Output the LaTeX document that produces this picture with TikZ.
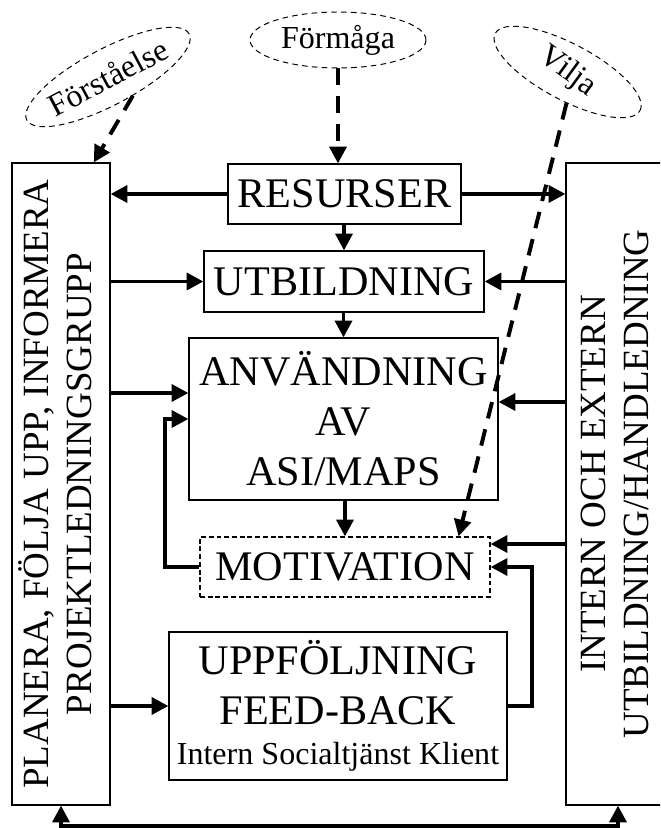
\documentclass[tikz,border=0pt]{standalone}
\usepackage{fontspec}
\setmainfont{Liberation Serif}
\usepackage{graphicx}
\usetikzlibrary{arrows.meta,calc,positioning,shapes.geometric}

\begin{document}
\begin{tikzpicture}[
  box/.style={draw,line width=0.8pt,align=center,inner sep=0pt,font=\fontsize{30}{35.6}\selectfont},
  sidebox/.style={box,minimum height=16.05cm,font=\fontsize{26.3}{30.6}\selectfont},
  oval/.style={draw,ellipse,dash pattern=on 4pt off 3pt,line width=0.7pt,inner sep=0pt,minimum height=1.4cm,font=\fontsize{22.8}{26}\selectfont},
  arr/.style={-{Triangle[length=0.42cm,width=0.42cm]},line width=2.8pt},
  darr/.style={arr,dash pattern=on 0.42cm off 0.28cm},
  arrs/.style={{Triangle[length=0.42cm,width=0.42cm]}-{Triangle[length=0.42cm,width=0.42cm]},line width=2.8pt}
]
\clip (0,0) rectangle (16.5,20.7);

% sidorna
\node[sidebox,minimum width=2.45cm] (plan) at (1.525,8.6) {\rotatebox{90}{\begin{tabular}{@{}c@{}}PLANERA, FÖLJA UPP, INFORMERA\\PROJEKTLEDNINGSGRUPP\end{tabular}}};
\node[sidebox,minimum width=2.6cm] (ext) at (15.45,8.6) {\rotatebox{90}{\begin{tabular}{@{}c@{}}INTERN OCH EXTERN\\UTBILDNING/HANDLEDNING\end{tabular}}};

% mitten
\node[box,minimum width=5.825cm,minimum height=1.5cm] (res) at (8.6125,15.85) {RESURSER};
\node[box,minimum width=7cm,minimum height=1.525cm] (utb) at (8.6,13.6625) {UTBILDNING};
\node[box,minimum width=7.725cm,minimum height=4.05cm] (anv) at (8.5875,10.225) {ANVÄNDNING\\AV\\ASI/MAPS};
\node[box,dash pattern=on 3.5pt off 2pt,minimum width=7.25cm,minimum height=1.5cm] (motiv) at (8.625,6.525) {MOTIVATION};
\node[box,minimum width=8.45cm,minimum height=3.7cm] (uppf) at (8.45,3.05) {UPPFÖLJNING\\FEED-BACK\\[-7pt]{\fontsize{22.8}{26}\selectfont Intern Socialtjänst Klient}};

% ovaler
\node[oval,minimum width=4.1cm,rotate=28] (forst) at (2.7,18.775) {Förståelse};
\node[oval,minimum width=4.4cm] (forma) at (8.45,19.7) {Förmåga};
\node[oval,minimum width=4.1cm,rotate=-28] (vilja) at (14.19,18.9) {\rotatebox{-8}{Vilja}};

% pilar
\draw[darr] (forst.-65) -- ($(plan.north east)+(-0.42,0)$);
\draw[darr] (forma.south) -- (forma.south |- res.north);
\draw[darr] (vilja.-64) -- ($(motiv.north east)+(-0.8,0)$);

\draw[arr] (res.west) -- (res.west -| plan.east);
\draw[arr] (res.east) -- (res.east -| ext.west);
\draw[arr] (utb.north |- res.south) -- (utb.north);
\draw[arr] (utb.west -| plan.east) -- (utb.west);
\draw[arr] (utb.east -| ext.west) -- (utb.east);
\draw[arr] (anv.north |- utb.south) -- (anv.north);
\coordinate (pa) at ($(anv.west)+(0,0.65)$);
\draw[arr] (pa -| plan.east) -- (pa);
\coordinate (ea) at ($(anv.east)+(0,0.425)$);
\draw[arr] (ea -| ext.west) -- (ea);
\draw[arr] (motiv.north |- anv.south) -- (motiv.north);
\coordinate (em) at ($(motiv.east)+(0,0.575)$);
\draw[arr] (em -| ext.west) -- (em);
\draw[arr] (motiv.west) -- ++(-0.85,0) |- (anv.west);
\draw[arr] (uppf.west -| plan.east) -- (uppf.west);
\draw[arr] (uppf.east) -- ++(0.6,0) |- (motiv.east);
\coordinate (bot) at (0,0.05);
\draw[arrs] (plan.south) -- (plan.south |- bot) -- (ext.south |- bot) -- (ext.south);

\end{tikzpicture}
\end{document}
